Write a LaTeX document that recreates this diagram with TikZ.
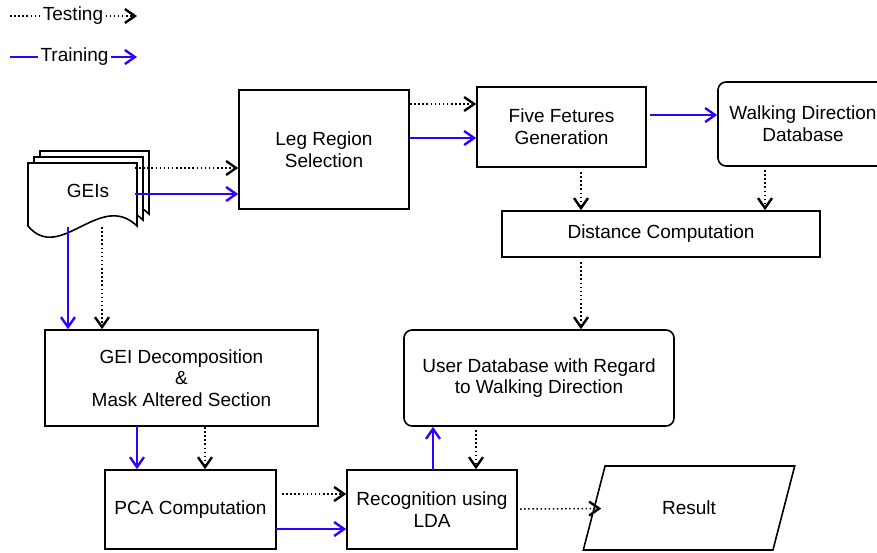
\documentclass[tikz,border=0pt]{standalone}
\usepackage{fontspec}
\setmainfont{Liberation Sans}
\usetikzlibrary{arrows.meta,shapes.geometric}
\definecolor{trainblue}{RGB}{51,0,255}
\tikzset{
  block/.style={draw, line width=0.8pt, align=center, inner sep=0pt,
    font=\fontsize{9.5}{10.8}\selectfont},
  rblock/.style={block, rounded corners=4pt},
  legtext/.style={inner sep=1pt, font=\fontsize{9.5}{10.8}\selectfont},
  tip/.style={-{Straight Barb[length=5pt,width=7pt,line width=1.2pt]}},
  test/.style={line width=0.75pt, dash pattern=on 0.75pt off 1.3pt, tip},
  train/.style={trainblue, line width=0.7pt, tip}
}
\begin{document}
\begin{tikzpicture}[x=0.5pt, y=-0.5pt]
\useasboundingbox (0,0) rectangle (877,552);
\clip (0,0) rectangle (877,552);

% legend
\node[legtext] (ltest) at (73,16) {Testing};
\node[legtext] (ltrain) at (74.5,57) {Training};
\coordinate (lt0) at (10,16); \coordinate (lt1) at (137,16);
\coordinate (lr0) at (10,57); \coordinate (lr1) at (137,57);
\draw[test,-] (lt0) -- (ltest);
\draw[test] (ltest) -- (lt1);
\draw[train,-] (lr0) -- (ltrain);
\draw[train] (ltrain) -- (lr1);

% stack of GEIs (document shape)
\foreach \s in {12,6,0}
  \draw[line width=0.8pt, fill=white, shift={(\s,-\s)}]
    (28,226) -- (28,163) -- (137,163) -- (137,226)
    .. controls (100,190) and (60,264) .. cycle;
\node[block, draw=none, minimum width=47pt, minimum height=36pt] (geis) at (88,191) {GEIs};

% blocks
\node[block, minimum width=85pt, minimum height=59.5pt] (leg) at (324,149.5) {Leg Region\\Selection};
\node[block, minimum width=84.5pt, minimum height=40pt] (five) at (561.5,127) {Five Fetures\\Generation};
\node[rblock, minimum width=85pt, minimum height=42pt] (wdd) at (803,124) {Walking Direction\\Database};
\node[block, minimum width=159pt, minimum height=23pt] (dist) at (661,234) {Distance Computation};
\node[rblock, minimum width=135pt, minimum height=48pt] (user) at (539,378) {User Database with Regard\\to Walking Direction};
\node[block, minimum width=136.5pt, minimum height=48pt] (gdec) at (181.5,378) {GEI Decomposition\\\&\\Mask Altered Section};
\node[block, minimum width=85.5pt, minimum height=39.5pt] (pca) at (190.5,509.5) {PCA Computation};
\node[block, minimum width=85pt, minimum height=39.5pt] (rec) at (432,509.5) {Recognition using\\LDA};
\node[block, shape=trapezium, trapezium left angle=63.4, trapezium right angle=116.6,
  trapezium stretches=true, minimum width=106pt, minimum height=42pt] (res) at (689,508) {Result};

% connector start points
\coordinate (g1) at (135,168);  \coordinate (g2) at (135,194);
\coordinate (g3) at (68,227);   \coordinate (g4) at (102,227);
\coordinate (l1) at (410,104);  \coordinate (l2) at (410,138);
\coordinate (f1) at (650,115);  \coordinate (f2) at (581,172);
\coordinate (w1) at (765,170);  \coordinate (d1) at (581,262);
\coordinate (m1) at (137,426);  \coordinate (m2) at (205,427);
\coordinate (p1) at (282,494);  \coordinate (p2) at (276,529);
\coordinate (r1) at (433,470);  \coordinate (u1) at (476,430);
\coordinate (r2) at (520,509);

% testing path
\draw[test] (g1) -- (g1 -| leg.west);
\draw[test] (l1) -- (l1 -| five.west);
\draw[test] (f2) -- (f2 |- dist.north);
\draw[test] (w1) -- (w1 |- dist.north);
\draw[test] (d1) -- (d1 |- user.north);
\draw[test] (g4) -- (g4 |- gdec.north);
\draw[test] (m2) -- (m2 |- pca.north);
\draw[test] (p1) -- (p1 -| rec.west);
\draw[test] (u1) -- (u1 |- rec.north);
\draw[test, shorten >=-4pt] (r2) -- (res);

% training path
\draw[train] (g2) -- (g2 -| leg.west);
\draw[train] (l2) -- (l2 -| five.west);
\draw[train] (f1) -- (f1 -| wdd.west);
\draw[train] (g3) -- (g3 |- gdec.north);
\draw[train] (m1) -- (m1 |- pca.north);
\draw[train] (p2) -- (p2 -| rec.west);
\draw[train] (r1) -- (r1 |- user.south);
\end{tikzpicture}
\end{document}
